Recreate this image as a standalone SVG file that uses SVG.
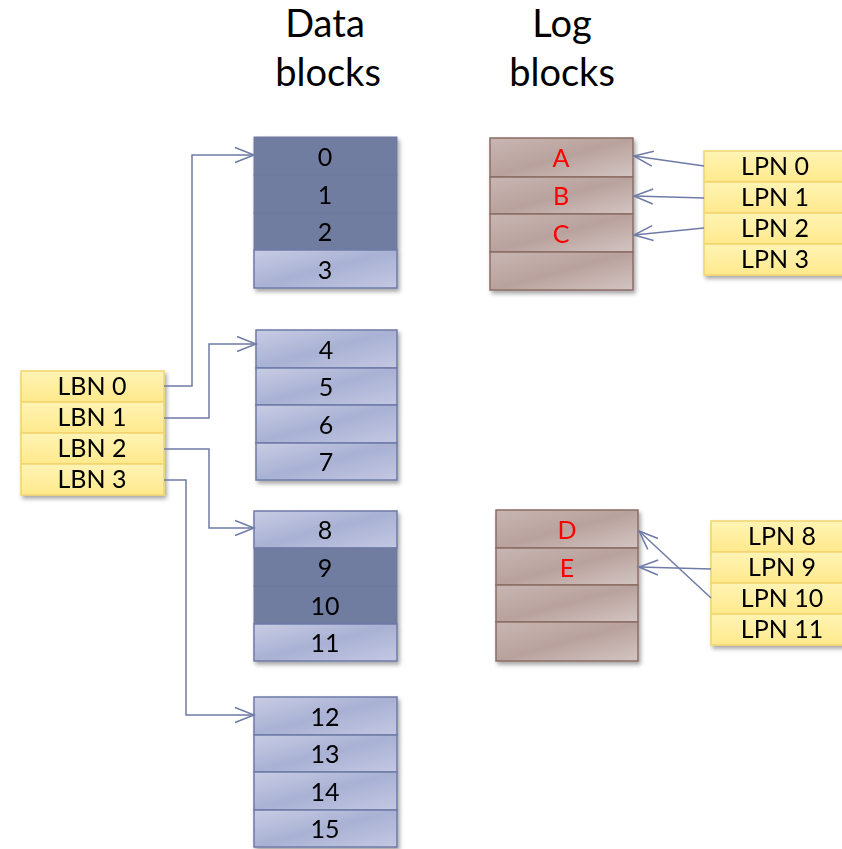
<svg xmlns="http://www.w3.org/2000/svg" width="842" height="849" viewBox="0 0 842 849">
<style>
text{font-family:Lato,"Open Sans","Liberation Sans",sans-serif;text-anchor:middle}
.t{font-size:38px;fill:#000}
.c{font-size:25px;fill:#000}
.r{font-size:25px;fill:#FF0000}
.lt{fill:url(#gl);stroke:#6F7BA6;stroke-width:1.5}
.dk{fill:#6F7BA0;stroke:#6F7BA0;stroke-width:1}
.lg{fill:url(#gb);stroke:#8B6E66;stroke-width:1.5}
.y{fill:url(#gy);stroke:#F2D46E;stroke-width:1.5}
.cn{fill:none;stroke:#6F7BA6;stroke-width:1.5}
</style>
<defs>
<linearGradient id="gl" x1="0" y1="0" x2="1" y2="1"><stop offset="0" stop-color="#C8CDE4"/><stop offset="0.5" stop-color="#A9B1D4"/><stop offset="1" stop-color="#C3C8E2"/></linearGradient>
<linearGradient id="gb" x1="0" y1="0" x2="1" y2="1"><stop offset="0" stop-color="#C8B6B2"/><stop offset="0.5" stop-color="#B9A29D"/><stop offset="1" stop-color="#D3C5C2"/></linearGradient>
<linearGradient id="gy" x1="0" y1="0" x2="0" y2="1"><stop offset="0" stop-color="#FFF4B5"/><stop offset="1" stop-color="#FFE98C"/></linearGradient>
<filter id="sh" x="-10%" y="-10%" width="130%" height="130%"><feDropShadow dx="2" dy="3" stdDeviation="2" flood-color="#000" flood-opacity="0.35"/></filter>
<marker id="ar" markerWidth="24" markerHeight="18" refX="21" refY="9" orient="auto" markerUnits="userSpaceOnUse"><path d="M2,1.5 L21,9 L2,16.5" fill="none" stroke="#6F7BA6" stroke-width="1.5"/></marker>
</defs>

<g id="titles">
<text class="t" x="325" y="37">Data</text>
<text class="t" x="328" y="86">blocks</text>
<text class="t" x="562" y="37">Log</text>
<text class="t" x="562" y="86">blocks</text>
</g>

<g id="data-block-0" filter="url(#sh)">
<rect class="dk" x="254" y="137" width="143" height="38"/>
<rect class="dk" x="254" y="175" width="143" height="38"/>
<rect class="dk" x="254" y="213" width="143" height="37"/>
<rect class="lt" x="254" y="250" width="143" height="38"/>
<text class="c" x="325" y="166">0</text>
<text class="c" x="325" y="204">1</text>
<text class="c" x="325" y="241">2</text>
<text class="c" x="325" y="279">3</text>
</g>

<g id="data-block-1" filter="url(#sh)">
<rect class="lt" x="256" y="330" width="141" height="38"/>
<rect class="lt" x="256" y="368" width="141" height="37"/>
<rect class="lt" x="256" y="405" width="141" height="38"/>
<rect class="lt" x="256" y="443" width="141" height="37"/>
<text class="c" x="326" y="359">4</text>
<text class="c" x="326" y="396">5</text>
<text class="c" x="326" y="434">6</text>
<text class="c" x="326" y="471">7</text>
</g>

<g id="data-block-2" filter="url(#sh)">
<rect class="lt" x="254" y="511" width="143" height="37"/>
<rect class="dk" x="254" y="548" width="143" height="38"/>
<rect class="dk" x="254" y="586" width="143" height="38"/>
<rect class="lt" x="254" y="624" width="143" height="37"/>
<text class="c" x="325" y="539">8</text>
<text class="c" x="325" y="577">9</text>
<text class="c" x="325" y="615">10</text>
<text class="c" x="325" y="652">11</text>
</g>

<g id="data-block-3" filter="url(#sh)">
<rect class="lt" x="254" y="697" width="143" height="38"/>
<rect class="lt" x="254" y="735" width="143" height="37"/>
<rect class="lt" x="254" y="772" width="143" height="38"/>
<rect class="lt" x="254" y="810" width="143" height="37"/>
<text class="c" x="325" y="726">12</text>
<text class="c" x="325" y="763">13</text>
<text class="c" x="325" y="801">14</text>
<text class="c" x="325" y="838">15</text>
</g>

<g id="log-block-0" filter="url(#sh)">
<rect class="lg" x="490" y="138" width="143" height="39"/>
<rect class="lg" x="490" y="177" width="143" height="37"/>
<rect class="lg" x="490" y="214" width="143" height="38"/>
<rect class="lg" x="490" y="252" width="143" height="38"/>
<text class="r" x="561" y="167">A</text>
<text class="r" x="561" y="205">B</text>
<text class="r" x="561" y="243">C</text>
</g>

<g id="log-block-1" filter="url(#sh)">
<rect class="lg" x="496" y="510" width="142" height="38"/>
<rect class="lg" x="496" y="548" width="142" height="37"/>
<rect class="lg" x="496" y="585" width="142" height="37"/>
<rect class="lg" x="496" y="622" width="142" height="39"/>
<text class="r" x="567" y="539">D</text>
<text class="r" x="567" y="577">E</text>
</g>

<g id="lbn-table" filter="url(#sh)">
<rect class="y" x="21" y="371" width="143" height="31"/>
<rect class="y" x="21" y="402" width="143" height="31"/>
<rect class="y" x="21" y="433" width="143" height="31"/>
<rect class="y" x="21" y="464" width="143" height="31"/>
<text class="c" x="92" y="395">LBN 0</text>
<text class="c" x="92" y="426">LBN 1</text>
<text class="c" x="92" y="457">LBN 2</text>
<text class="c" x="92" y="488">LBN 3</text>
</g>

<g id="lpn-table-0" filter="url(#sh)">
<rect class="y" x="704" y="151" width="145" height="31"/>
<rect class="y" x="704" y="182" width="145" height="31"/>
<rect class="y" x="704" y="213" width="145" height="31"/>
<rect class="y" x="704" y="244" width="145" height="31"/>
<text class="c" x="775" y="175">LPN 0</text>
<text class="c" x="775" y="206">LPN 1</text>
<text class="c" x="775" y="237">LPN 2</text>
<text class="c" x="775" y="268">LPN 3</text>
</g>

<g id="lpn-table-1" filter="url(#sh)">
<rect class="y" x="711" y="521" width="140" height="31"/>
<rect class="y" x="711" y="552" width="140" height="31"/>
<rect class="y" x="711" y="583" width="140" height="31"/>
<rect class="y" x="711" y="614" width="140" height="31"/>
<text class="c" x="782" y="545">LPN 8</text>
<text class="c" x="782" y="576">LPN 9</text>
<text class="c" x="782" y="607">LPN 10</text>
<text class="c" x="782" y="638">LPN 11</text>
</g>

<g id="connectors">
<polyline class="cn" points="164,386 192,386 192,155 254,155" marker-end="url(#ar)"/>
<polyline class="cn" points="164,418 209,418 209,344 256,344" marker-end="url(#ar)"/>
<polyline class="cn" points="164,449 209,449 209,528 254,528" marker-end="url(#ar)"/>
<polyline class="cn" points="164,480 186,480 186,715 254,715" marker-end="url(#ar)"/>
<line class="cn" x1="704" y1="166" x2="634" y2="156" marker-end="url(#ar)"/>
<line class="cn" x1="704" y1="198" x2="634" y2="196" marker-end="url(#ar)"/>
<line class="cn" x1="704" y1="228" x2="634" y2="235" marker-end="url(#ar)"/>
<line class="cn" x1="711" y1="569" x2="639" y2="567" marker-end="url(#ar)"/>
<line class="cn" x1="711" y1="598" x2="639" y2="531" marker-end="url(#ar)"/>
</g>
</svg>
